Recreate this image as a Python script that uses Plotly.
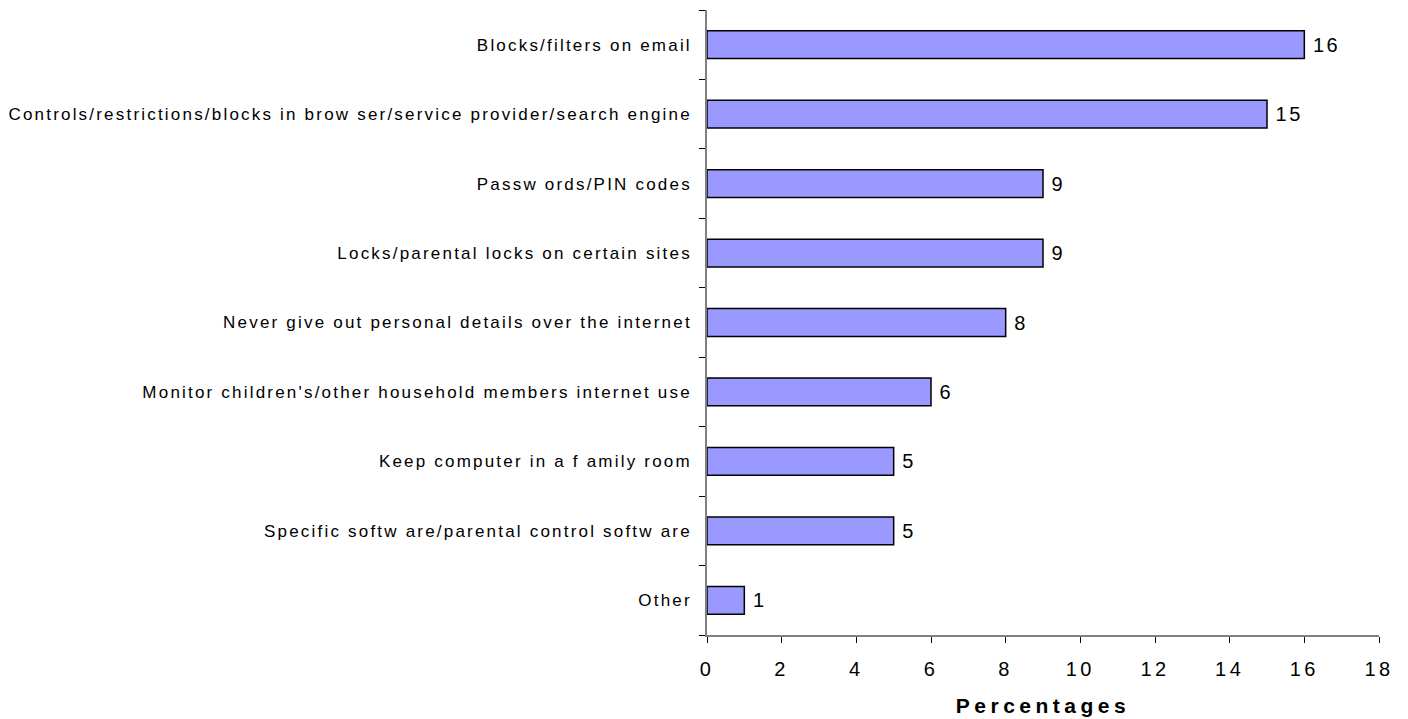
import plotly.graph_objects as go

# Household online safety measures (share of respondents, %)
categories = [
    "Blocks/filters on email",
    "Controls/restrictions/blocks in brow ser/service provider/search engine",
    "Passw ords/PIN codes",
    "Locks/parental locks on certain sites",
    "Never give out personal details over the internet",
    "Monitor children's/other household members internet use",
    "Keep computer in a f amily room",
    "Specific softw are/parental control softw are",
    "Other",
]
values = [16, 15, 9, 9, 8, 6, 5, 5, 1]
x_ticks = [0, 2, 4, 6, 8, 10, 12, 14, 16, 18]

FONT = "Liberation Sans, Arial, sans-serif"


def spaced(text, px):
    """Wrap text in a span with extra letter spacing."""
    return f'<span style="letter-spacing:{px}px">{text}</span>'


labels = [spaced(c, 2.2) for c in categories]

fig = go.Figure(
    go.Bar(
        x=values,
        y=labels,
        orientation="h",
        marker=dict(color="#9999FF", line=dict(color="#000000", width=1.5)),
        text=["\u00a0" + spaced(v, 2.5) for v in values],
        textposition="outside",
        textfont=dict(family=FONT, size=20, color="#000000"),
        cliponaxis=False,
    )
)

fig.update_layout(
    width=1408,
    height=719,
    margin=dict(l=707, r=29, t=10, b=84),
    paper_bgcolor="white",
    plot_bgcolor="white",
    bargap=0.6,
    showlegend=False,
    font=dict(family=FONT, color="#000000"),
)

fig.update_xaxes(
    range=[0, 18],
    tickvals=x_ticks,
    ticktext=[spaced(t, 3.5) for t in x_ticks],
    ticks="outside",
    ticklen=6,
    tickcolor="#000000",
    showline=True,
    linecolor="#808080",
    linewidth=1.5,
    showgrid=False,
    zeroline=False,
    automargin=False,
    ticklabelstandoff=9,
    tickfont=dict(family=FONT, size=20, color="#000000"),
    title=dict(
        text="<b>" + spaced("Percentages", 4.5) + "</b>",
        font=dict(family=FONT, size=21, color="#000000"),
        standoff=20,
    ),
)

fig.update_yaxes(
    categoryorder="array",
    categoryarray=labels[::-1],
    ticks="outside",
    tickson="boundaries",
    ticklen=6,
    tickcolor="#000000",
    showline=True,
    linecolor="#808080",
    linewidth=1.5,
    showgrid=False,
    zeroline=False,
    automargin=False,
    ticklabelstandoff=10,
    tickfont=dict(family=FONT, size=17, color="#000000"),
)

fig.write_html("out.html")
